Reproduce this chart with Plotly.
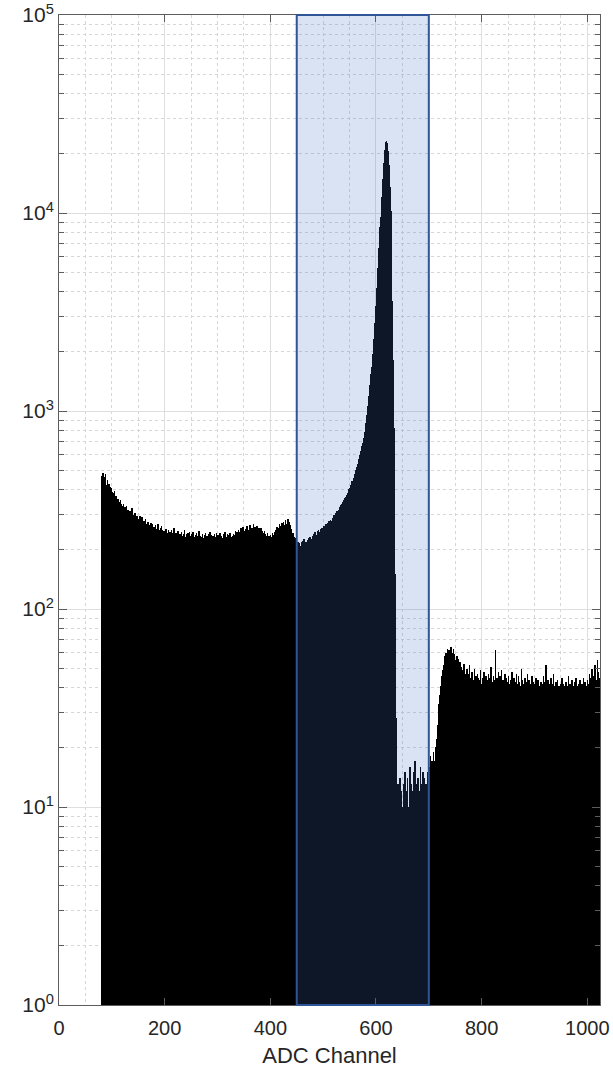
import plotly.graph_objects as go

# ---- data (counts per ADC channel) ----
start_channel = 80
end_channel = 1024

counts_low = [  # channels 80-449
    470, 455, 430, 488, 441, 420, 462, 435, 478, 412,
    425, 398, 446, 405, 388, 430, 402, 415, 380, 409,
    392, 361, 384, 350, 378, 395, 366, 342, 371, 356,
    352, 338, 361, 330, 347, 329, 355, 318, 340, 333,
    330, 312, 341, 305, 318, 326, 298, 315, 331, 309,
    296, 318, 301, 289, 312, 297, 285, 306, 322, 291,
    284, 299, 276, 292, 305, 281, 288, 270, 296, 279,
    286, 271, 278, 295, 265, 281, 274, 290, 262, 277,
    268, 279, 257, 272, 286, 261, 270, 255, 275, 263,
    258, 266, 249, 262, 271, 247, 259, 268, 244, 256,
    261, 243, 250, 266, 239, 255, 248, 270, 241, 252,
    245, 236, 258, 242, 263, 237, 251, 229, 248, 240,
    233, 247, 228, 255, 236, 242, 222, 250, 238, 231,
    244, 226, 238, 251, 230, 219, 241, 235, 257, 228,
    236, 243, 221, 238, 230, 248, 225, 234, 216, 240,
    229, 237, 245, 222, 233, 218, 239, 227, 250, 231,
    224, 238, 229, 216, 242, 233, 221, 246, 228, 235,
    230, 219, 238, 226, 244, 222, 231, 214, 237, 228,
    241, 225, 218, 233, 229, 247, 220, 235, 226, 212,
    231, 224, 239, 217, 228, 236, 221, 243, 226, 219,
    234, 227, 215, 238, 222, 230, 245, 218, 229, 236,
    220, 233, 226, 212, 239, 224, 231, 217, 242, 228,
    225, 236, 219, 230, 214, 241, 227, 222, 235, 216,
    229, 238, 221, 233, 246, 224, 218, 231, 226, 239,
    222, 215, 237, 228, 243, 219, 232, 225, 211, 234,
    240, 227, 236, 221, 249, 232, 226, 244, 230, 238,
    252, 235, 246, 229, 258, 238, 244, 231, 261, 240,
    236, 249, 228, 255, 242, 233, 264, 239, 247, 230,
    251, 238, 266, 243, 229, 257, 245, 236, 270, 248,
    241, 259, 234, 252, 246, 263, 238, 250, 232, 256,
    244, 231, 258, 239, 226, 249, 236, 242, 221, 247,
    229, 238, 219, 235, 226, 241, 214, 233, 227, 222,
    236, 224, 219, 231, 242, 228, 216, 237, 225, 245,
    238, 252, 244, 261, 236, 257, 249, 268, 243, 255,
    262, 247, 271, 254, 240, 276, 258, 265, 249, 283,
    259, 270, 252, 286, 263, 248, 274, 257, 266, 241,
    254, 238, 226, 243, 218, 232, 214, 229, 221, 210,
]

counts_roi = [  # channels 450-699
    212, 198, 219, 204, 193, 215, 201, 208, 190, 217,
    205, 221, 199, 214, 226, 203, 211, 196, 219, 207,
    222, 209, 228, 214, 203, 231, 218, 211, 226, 207,
    233, 221, 240, 226, 218, 244, 229, 236, 222, 247,
    238, 251, 233, 246, 229, 255, 242, 236, 258, 249,
    255, 246, 263, 250, 241, 268, 257, 249, 272, 260,
    265, 279, 258, 274, 283, 266, 277, 262, 289, 280,
    286, 298, 291, 305, 288, 300, 312, 296, 309, 318,
    314, 327, 320, 334, 329, 341, 336, 348, 339, 355,
    351, 362, 370, 359, 376, 372, 385, 381, 394, 402,
    398, 410, 421, 416, 432, 441, 436, 452, 460, 471,
    479, 488, 502, 511, 520, 534, 541, 558, 572, 585,
    598, 612, 630, 648, 667, 689, 705, 728, 752, 779,
    830, 870, 915, 960, 1010, 1065, 1125, 1190, 1265, 1350,
    1440, 1545, 1660, 1790, 1940, 2110, 2300, 2520, 2770, 3060,
    3390, 3760, 4190, 4680, 5250, 5900, 6650, 7500, 8450, 9500,
    10700, 12000, 13400, 14900, 16400, 17900, 19400, 20700, 21900, 22800,
    23100, 22700, 21800, 20500, 19000, 17400, 15800, 13600, 10200, 6400,
    3600, 2500, 1800, 1300, 820, 380, 150, 62, 28, 16,
    12, 9, 13, 10, 8, 14, 11, 9, 12, 7,
    10, 6, 13, 9, 11, 15, 8, 10, 12, 9,
    14, 10, 8, 12, 16, 9, 11, 13, 8, 10,
    12, 15, 9, 11, 17, 10, 8, 13, 11, 9,
    14, 10, 12, 8, 16, 11, 9, 13, 10, 15,
    11, 9, 14, 12, 10, 13, 9, 12, 15, 11,
]

counts_high = [  # channels 700-1023
    13, 16, 12, 18, 14, 11, 17, 15, 13, 19,
    15, 17, 14, 20, 18, 22, 26, 24, 30, 33,
    37, 35, 41, 39, 46, 43, 49, 47, 52, 50,
    54, 58, 51, 60, 56, 63, 53, 59, 62, 55,
    61, 56, 64, 58, 52, 60, 57, 63, 54, 59,
    55, 49, 53, 58, 47, 51, 56, 46, 50, 54,
    48, 43, 51, 45, 40, 49, 44, 53, 42, 47,
    41, 46, 50, 43, 39, 47, 42, 52, 44, 40,
    45, 38, 48, 41, 44, 37, 50, 42, 39, 46,
    43, 40, 47, 38, 45, 41, 36, 44, 49, 39,
    42, 37, 45, 40, 48, 38, 43, 36, 46, 41,
    39, 44, 37, 47, 42, 35, 45, 40, 51, 38,
    43, 39, 46, 41, 36, 44, 62, 40, 38, 45,
    41, 37, 48, 43, 39, 46, 35, 42, 49, 40,
    44, 38, 41, 36, 47, 42, 39, 45, 37, 43,
    40, 46, 38, 42, 35, 44, 41, 48, 37, 43,
    39, 45, 40, 36, 43, 38, 47, 41, 34, 42,
    46, 39, 43, 37, 41, 50, 38, 44, 40, 36,
    42, 38, 45, 40, 35, 43, 39, 47, 41, 37,
    44, 40, 36, 42, 38, 46, 41, 35, 43, 39,
    37, 42, 39, 45, 36, 41, 38, 44, 40, 34,
    41, 37, 43, 39, 35, 42, 38, 46, 40, 36,
    43, 39, 52, 37, 41, 35, 44, 38, 42, 36,
    40, 45, 38, 34, 42, 39, 47, 37, 41, 35,
    38, 43, 36, 40, 44, 37, 41, 31, 39, 42,
    36, 40, 45, 38, 34, 42, 37, 41, 39, 35,
    43, 38, 41, 36, 46, 39, 35, 42, 37, 40,
    38, 44, 36, 41, 39, 34, 43, 37, 40, 45,
    37, 41, 38, 35, 42, 39, 44, 36, 40, 38,
    42, 37, 40, 45, 38, 36, 43, 39, 41, 37,
    44, 39, 42, 36, 47, 40, 38, 45, 41, 50,
    39, 43, 37, 46, 41, 52, 38, 44, 40, 55,
    42, 48, 39, 45,
]

roi = [450, 700]
x_ticks = [0, 200, 400, 600, 800, 1000]
y_decades = [1, 10, 100, 1000, 10000, 100000]
y_ticktext = ["10<sup>0</sup>", "10<sup>1</sup>", "10<sup>2</sup>",
              "10<sup>3</sup>", "10<sup>4</sup>", "10<sup>5</sup>"]
x_label = "ADC Channel"

channels = list(range(start_channel, end_channel))
counts = counts_low + counts_roi + counts_high
assert len(channels) == len(counts)

y_minor = [d * m for d in y_decades[:-1] for m in range(2, 10)]

axis_col = "#5c5c5c"
text_col = "#262626"
grid_major = "#dedede"
grid_minor = "#d6d6d6"
font_fam = "Liberation Sans, Arial, Helvetica, sans-serif"

fig = go.Figure()
fig.add_trace(go.Bar(
    x=channels, y=counts, width=1,
    marker=dict(color="black", line=dict(width=0)),
    hoverinfo="x+y",
))

fig.add_shape(
    type="rect", xref="x", yref="paper",
    x0=roi[0], x1=roi[1], y0=0, y1=1,
    fillcolor="rgba(68,114,196,0.2)",
    line=dict(color="#2f5597", width=2),
    layer="above",
)

fig.update_layout(
    width=613, height=1068,
    margin=dict(l=59, r=13, t=15, b=63, autoexpand=False),
    paper_bgcolor="white", plot_bgcolor="white",
    bargap=0, showlegend=False,
    font=dict(family=font_fam, color=text_col, size=20),
)

fig.update_xaxes(
    range=[0, 1024], automargin=False,
    tickvals=x_ticks, ticktext=[str(v) for v in x_ticks],
    ticks="inside", ticklen=7, tickcolor=axis_col, tickwidth=1,
    showline=True, linecolor=axis_col, linewidth=1, mirror="allticks",
    showgrid=True, gridcolor=grid_major, gridwidth=1,
    minor=dict(dtick=50, tick0=0, showgrid=True, gridcolor=grid_minor,
               griddash="dot", ticks=""),
    zeroline=False, ticklabelstandoff=5, ticklabeloverflow="allow",
    tickfont=dict(size=20, color=text_col, family=font_fam),
    title=dict(text=x_label, font=dict(size=22, color=text_col, family=font_fam),
               standoff=15),
)

fig.update_yaxes(
    type="log", range=[0, 5], automargin=False,
    tickvals=y_decades, ticktext=y_ticktext,
    ticks="inside", ticklen=8, tickcolor=axis_col, tickwidth=1,
    showline=True, linecolor=axis_col, linewidth=1, mirror="allticks",
    showgrid=True, gridcolor=grid_major, gridwidth=1,
    minor=dict(tickvals=y_minor, ticks="inside", ticklen=5, tickcolor=axis_col,
               showgrid=True, gridcolor=grid_minor, griddash="dot"),
    zeroline=False, ticklabeloverflow="allow",
    tickfont=dict(size=21, color=text_col, family=font_fam),
)

# remove the browser's default 8px body margin so the figure fills the window
fig.write_html("out.html", config={"displayModeBar": False},
               post_script="document.body.style.margin='0px';")
